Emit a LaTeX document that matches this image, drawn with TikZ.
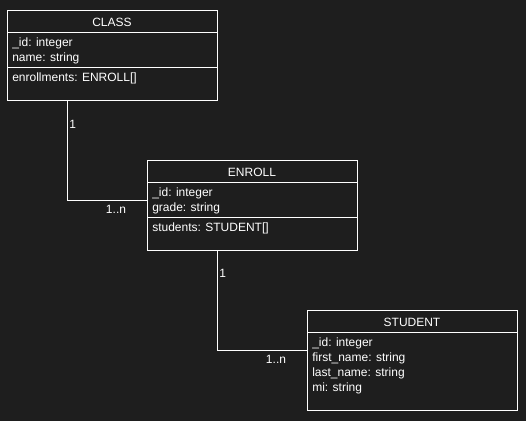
\documentclass[tikz,border=0pt]{standalone}
\usepackage{fontspec}
\setmainfont{Liberation Sans}
\usetikzlibrary{calc}
\definecolor{bg}{HTML}{1E1E1E}
\definecolor{fg}{HTML}{FFFFFF}
\begin{document}
\begin{tikzpicture}[x=0.75pt,y=-0.75pt,
  umlbox/.style={draw=fg, line width=0.75pt, fill=bg, anchor=north west, inner sep=0pt, minimum width=157.5pt},
  divider/.style={draw=fg, line width=0.75pt},
  conn/.style={draw=fg, line width=0.75pt},
  ttl/.style={text=fg, font=\fontsize{9}{11}\selectfont, inner sep=0pt},
  attr/.style={text=fg, font=\fontsize{9}{11}\selectfont, inner sep=0pt, anchor=west},
  mult/.style={text=fg, font=\fontsize{9}{11}\selectfont, inner sep=0pt}]
\fill[bg] (0,0) rectangle (526,421);
\useasboundingbox (0,0) rectangle (526,421);
% CLASS
\node[umlbox, minimum height=67.5pt] (class) at (7,10) {};
\draw[divider] (7,32) -- (217,32);
\draw[divider] (7,67) -- (217,67);
\node[ttl] (classT) at (112,22) {CLASS};
\node[attr] (classA1) at (12,43) {\_id: integer};
\node[attr] (classA2) at (12,58) {name: string};
\node[attr] (classA3) at (12,78) {enrollments: ENROLL[]};
% ENROLL
\node[umlbox, minimum height=67.5pt] (enroll) at (147,160) {};
\draw[divider] (147,182) -- (357,182);
\draw[divider] (147,217) -- (357,217);
\node[ttl] (enrollT) at (252,172) {ENROLL};
\node[attr] (enrollA1) at (152,193) {\_id: integer};
\node[attr] (enrollA2) at (152,208) {grade: string};
\node[attr] (enrollA3) at (152,228) {students: STUDENT[]};
% STUDENT
\node[umlbox, minimum height=75pt] (student) at (307,310) {};
\draw[divider] (307,332) -- (517,332);
\node[ttl] (studentT) at (412,322) {STUDENT};
\node[attr] (studentA1) at (312,343) {\_id: integer};
\node[attr] (studentA2) at (312,358) {first\_name: string};
\node[attr] (studentA3) at (312,373) {last\_name: string};
\node[attr] (studentA4) at (312,388) {mi: string};
% connectors
\coordinate (c1s) at ($(class.south west)+(60,0)$);
\coordinate (c1e) at ($(enroll.north west)+(0,40)$);
\draw[conn] (c1s) |- (c1e);
\coordinate (c2s) at ($(enroll.south west)+(70,0)$);
\coordinate (c2e) at ($(student.north west)+(0,40)$);
\draw[conn] (c2s) |- (c2e);
% multiplicities
\node[mult, anchor=west] (m1) at (69,124) {1};
\node[mult] (m2) at (116,209) {1..n};
\node[mult, anchor=west] (m3) at (219,273) {1};
\node[mult] (m4) at (276,359) {1..n};
\end{tikzpicture}
\end{document}
